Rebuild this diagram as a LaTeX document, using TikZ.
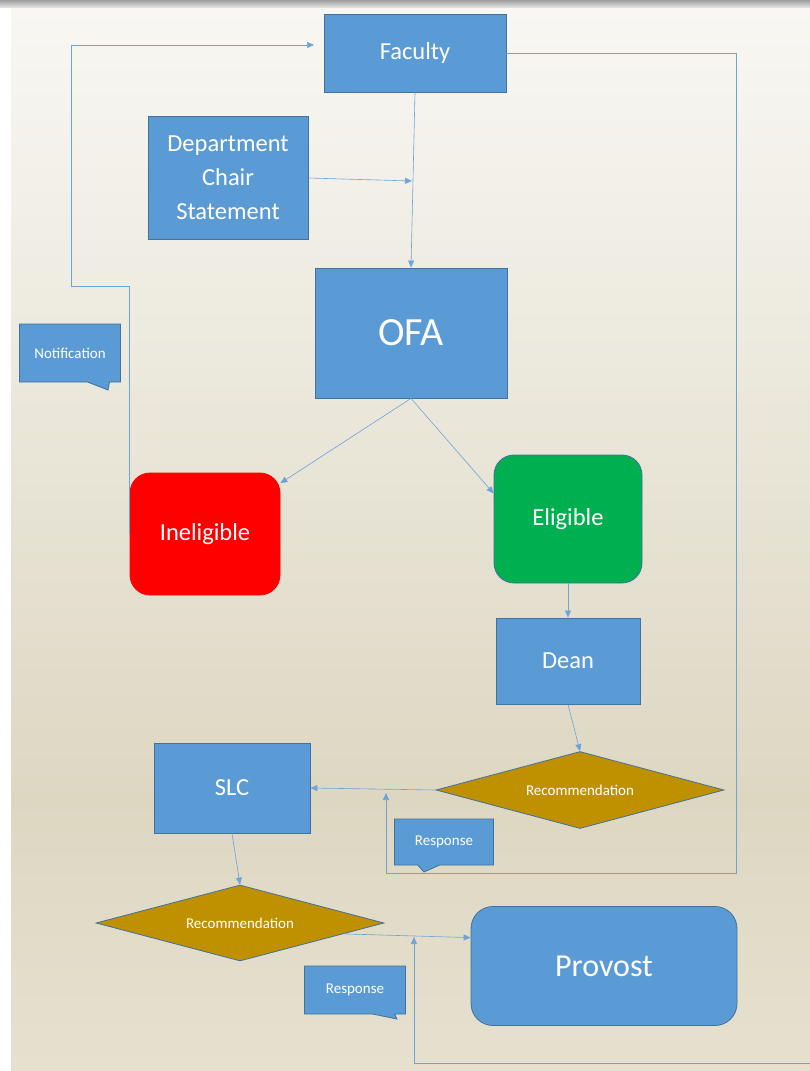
\documentclass[tikz,border=0pt]{standalone}
\usepackage{fontspec}
\setmainfont{Carlito}
\usetikzlibrary{shapes.geometric,shapes.callouts,arrows.meta,backgrounds}
\definecolor{boxblue}{HTML}{5B9BD5}
\definecolor{edgeblue}{HTML}{41719C}
\definecolor{linkblue}{HTML}{6FA3D8}
\definecolor{decgold}{HTML}{BF9000}
\definecolor{okgreen}{HTML}{00B050}
\definecolor{bgtop}{HTML}{F8F7F3}
\definecolor{bgmid}{HTML}{DDD7C2}
\definecolor{bgbot}{HTML}{E6E1CF}
\tikzset{
  box/.style={rectangle, fill=boxblue, draw=edgeblue, line width=0.8pt, text=white,
    inner sep=0pt, align=center, font=\fontsize{24.5}{34}\selectfont},
  roundbox/.style={box, rounded corners=20pt},
  decision/.style={diamond, fill=decgold, draw=edgeblue, line width=0.8pt, text=white,
    inner sep=0pt, aspect=3.7, font=\fontsize{15}{17}\selectfont},
  bubble/.style={rectangle callout, fill=boxblue, draw=edgeblue, line width=0.8pt, text=white,
    inner sep=0pt, callout pointer width=22pt, font=\fontsize{15}{17}\selectfont},
  link/.style={draw=linkblue, line width=0.6pt},
}
\begin{document}
\begin{tikzpicture}[x=1pt, y=-1pt, >={Triangle[length=7pt,width=6pt]}]
  \useasboundingbox (0,0) rectangle (810,1071);
  % backdrop
  \begin{pgfonlayer}{background}
    \fill[white] (0,0) rectangle (810,1071);
    \shade[top color=bgtop, bottom color=bgmid] (11,6) rectangle (810,800);
    \shade[top color=bgmid, bottom color=bgbot] (11,800) rectangle (810,1071);
    \shade[top color=gray!75, bottom color=gray!25] (0,0) rectangle (810,7);
  \end{pgfonlayer}
  % boxes
  \node[box, minimum width=182pt, minimum height=78pt] (faculty) at (415,53) {Faculty};
  \node[box, minimum width=160pt, minimum height=123pt] (chair) at (228,178) {Department\\Chair\\Statement};
  \node[box, minimum width=192pt, minimum height=130pt, font=\fontsize{40}{44}\selectfont] (ofa) at (411,333) {OFA};
  \node[bubble, minimum width=101pt, minimum height=58pt, callout absolute pointer={(108,390)}] (notice) at (70,353) {Notification};
  \node[roundbox, fill=red, draw=red, minimum width=150pt, minimum height=122pt] (inelig) at (205,534) {Ineligible};
  \node[roundbox, fill=okgreen, minimum width=148pt, minimum height=128pt] (elig) at (568,519) {Eligible};
  \node[box, minimum width=144pt, minimum height=86pt] (dean) at (568,661) {Dean};
  \node[decision, minimum width=288pt, minimum height=77pt] (recA) at (580,790) {Recommendation};
  \node[box, minimum width=156pt, minimum height=90pt] (slc) at (232,788) {SLC};
  \node[bubble, minimum width=99pt, minimum height=46pt, callout absolute pointer={(424,872)}] (replyA) at (444,842) {Response};
  \node[decision, minimum width=288pt, minimum height=76pt] (recB) at (240,923) {Recommendation};
  \node[bubble, minimum width=101pt, minimum height=48pt, callout absolute pointer={(397,1019)}] (replyB) at (355,990) {Response};
  \node[roundbox, rounded corners=22pt, minimum width=266pt, minimum height=119pt, font=\fontsize{32}{36}\selectfont] (provost) at (604,966) {Provost};
  % bend points
  \coordinate (join) at (412,181);
  \coordinate (bendA) at (71,286);
  \coordinate (facIn) at (314,45);
  \coordinate (loopR) at (736,873);
  \coordinate (loopL) at (386,793);
  \coordinate (baseR) at (810,1063);
  \coordinate (baseUp) at (414,937);
  % connectors
  \draw[link,->] (faculty.south) -- (ofa.north);
  \draw[link,->] (chair.east) -- (join);
  \draw[link,->] (ofa.south) -- (inelig.34);
  \draw[link,->] (ofa.south) -- (elig.161);
  \draw[link,->] (elig.south) -- (dean.north);
  \draw[link,->] (dean.south) -- (recA.north);
  \draw[link,->] (recA.west) -- (slc.east);
  \draw[link,->] (faculty.east) -| (loopR) -| (loopL);
  \draw[link,->] (slc.south) -- (recB.north);
  \draw[link,->] (recB.-6) -- (provost.168.5);
  \draw[link,->] (baseR) -| (baseUp);
  \draw[link,->] (inelig.west) |- (bendA) |- (facIn);
\end{tikzpicture}
\end{document}
